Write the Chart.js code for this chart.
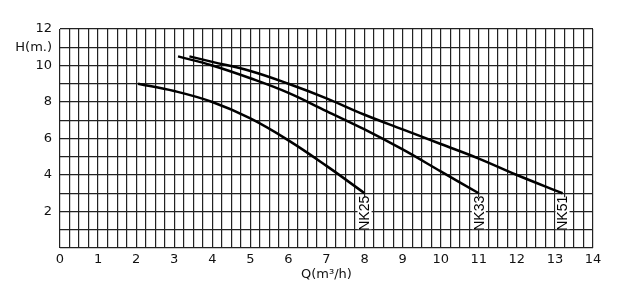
<!DOCTYPE html>
<html>
<head>
<meta charset="utf-8">
<script src="https://cdn.jsdelivr.net/npm/chart.js@4"></script>
<style>
  html, body { margin: 0; padding: 0; background: #fff; }
  #wrap { width: 637px; height: 302px; }
</style>
</head>
<body>
<div id="wrap"><canvas id="chartBombas"></canvas></div>
<script>
  // curvas Q-H de cada bomba
  const modelos = ['NK25', 'NK33', 'NK51'];
  const qNK25 = [2.05, 3, 4, 5, 6, 7, 8];
  const hNK25 = [9.0, 8.6, 8.0, 7.1, 5.9, 4.5, 3.0];
  const qNK33 = [3.1, 4, 5, 6, 7, 8, 9, 10, 11];
  const hNK33 = [10.5, 10.0, 9.3, 8.5, 7.5, 6.5, 5.4, 4.2, 3.0];
  const qNK51 = [3.4, 4, 5, 6, 7, 8, 9, 10, 11, 12, 13.2];
  const hNK51 = [10.5, 10.2, 9.7, 9.0, 8.2, 7.3, 6.5, 5.7, 4.9, 4.0, 3.0];
  const ticksY = [2, 4, 6, 8, 10, 12];
  const etiquetaY = 'H(m.)';
  const tituloX = 'Q(m³/h)';

  const puntos = (qs, hs) => qs.map((q, i) => ({ x: q, y: hs[i] }));
  const curvas = [puntos(qNK25, hNK25), puntos(qNK33, hNK33), puntos(qNK51, hNK51)];

  const fuente = { family: 'DejaVu Sans', size: 13 };

  const etiquetasModelo = {
    id: 'etiquetasModelo',
    afterDatasetsDraw(chart) {
      const c = chart.ctx;
      chart.data.datasets.forEach(ds => {
        const p = ds.data[ds.data.length - 1];
        const x = chart.scales.x.getPixelForValue(p.x);
        const y = chart.scales.y.getPixelForValue(p.y);
        c.save();
        c.fillStyle = '#fff';
        c.fillRect(x - 7, y + 4, 14, 32);
        c.translate(x, y + 20);
        c.rotate(-Math.PI / 2);
        c.fillStyle = '#000';
        c.font = '14px "Liberation Sans Narrow", "Liberation Sans"';
        c.textAlign = 'center';
        c.textBaseline = 'middle';
        c.fillText(ds.label, 0, 1);
        c.restore();
      });
    }
  };

  new Chart(document.getElementById('chartBombas'), {
    type: 'line',
    data: {
      datasets: curvas.map((d, i) => ({
        label: modelos[i],
        data: d,
        borderColor: '#000',
        borderWidth: 2.5,
        pointRadius: 0,
        tension: 0.4,
        fill: false
      }))
    },
    options: {
      responsive: true,
      maintainAspectRatio: false,
      animation: false,
      layout: { padding: { left: 0, right: 44, top: 29, bottom: 0 } },
      plugins: { legend: { display: false }, tooltip: { enabled: false } },
      scales: {
        x: {
          type: 'linear',
          min: 0,
          max: 14,
          afterFit: s => { s.height = 54; },
          border: { display: false },
          grid: { color: '#222', lineWidth: 1.2, drawTicks: false },
          ticks: {
            stepSize: 0.25,
            autoSkip: false,
            maxRotation: 0,
            padding: 4,
            color: '#111',
            font: fuente,
            callback: v => Number.isInteger(v) ? String(v) : ''
          },
          title: {
            display: true,
            text: tituloX,
            color: '#111',
            font: fuente,
            padding: { top: 0, bottom: 20 }
          }
        },
        y: {
          min: 0,
          max: 12,
          afterFit: s => { s.width = 60; },
          border: { display: false },
          grid: { color: '#222', lineWidth: 1.2, drawTicks: false },
          ticks: {
            stepSize: 1,
            autoSkip: false,
            padding: 8,
            color: '#111',
            font: fuente,
            callback: v => v === 11 ? etiquetaY : (ticksY.includes(v) ? String(v) : '')
          }
        }
      }
    },
    plugins: [etiquetasModelo]
  });
</script>
</body>
</html>
